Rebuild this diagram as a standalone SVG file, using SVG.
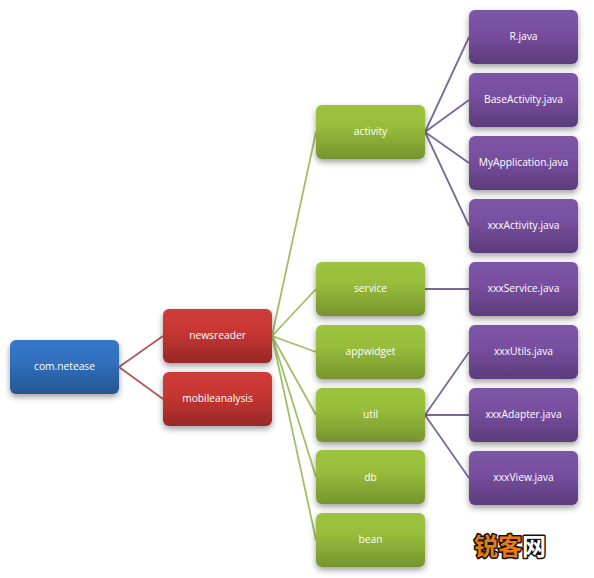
<svg xmlns="http://www.w3.org/2000/svg" width="594" height="578" viewBox="0 0 594 578">
<defs>
<linearGradient id="gb" x1="0" y1="0" x2="0" y2="1"><stop offset="0" stop-color="#3677c8"/><stop offset=".4" stop-color="#3070be"/><stop offset="1" stop-color="#24578f"/></linearGradient>
<linearGradient id="gr" x1="0" y1="0" x2="0" y2="1"><stop offset="0" stop-color="#cf3d3a"/><stop offset=".4" stop-color="#c83633"/><stop offset="1" stop-color="#982826"/></linearGradient>
<linearGradient id="gg" x1="0" y1="0" x2="0" y2="1"><stop offset="0" stop-color="#9dc43f"/><stop offset=".4" stop-color="#97bd3b"/><stop offset="1" stop-color="#76942e"/></linearGradient>
<linearGradient id="gp" x1="0" y1="0" x2="0" y2="1"><stop offset="0" stop-color="#7e55a6"/><stop offset=".4" stop-color="#794fa0"/><stop offset="1" stop-color="#5c3c7c"/></linearGradient>
<filter id="sh" x="-15%" y="-20%" width="130%" height="150%"><feDropShadow dx="0" dy="3" stdDeviation="3" flood-color="#000" flood-opacity=".38"/></filter>
</defs>
<style>
.n{filter:url(#sh)}
.b{fill:url(#gb)}.r{fill:url(#gr)}.g{fill:url(#gg)}.p{fill:url(#gp)}
text{font-family:"Open Sans","Liberation Sans",sans-serif;font-size:10.25px;fill:#fff;text-anchor:middle}
.cr{stroke:#b25a58;stroke-width:1.8;fill:none}
.cg{stroke:#a0bf66;stroke-width:1.8;fill:none}
.cp{stroke:#7d689a;stroke-width:1.8;fill:none}
.wm{font-family:"Noto Sans CJK SC",sans-serif;font-size:24px;font-weight:700;text-anchor:start;stroke:#111;stroke-width:3px;paint-order:stroke;stroke-linejoin:round}
</style>
<g id="connectors">
<path class="cr" d="M119 367L163 336M119 367L163 399"/>
<path class="cg" d="M272 336L316 132M272 336L316 289M272 336L316 352M272 336L316 415M272 336L316 477M272 336L316 540"/>
<path class="cp" d="M425 132L469 37M425 132L469 100M425 132L469 163M425 132L469 226M425 289L469 289M425 415L469 352M425 415L469 415M425 415L469 478"/>
</g>
<g id="com-netease"><rect class="n b" x="10" y="340" width="109" height="54" rx="6"/><text x="64.500" y="370">com.netease</text></g>
<g id="newsreader"><rect class="n r" x="163" y="309" width="109" height="54" rx="6"/><text x="217.500" y="339">newsreader</text></g>
<g id="mobileanalysis"><rect class="n r" x="163" y="372" width="109" height="54" rx="6"/><text x="217.500" y="402">mobileanalysis</text></g>
<g id="activity"><rect class="n g" x="316" y="105" width="109" height="54" rx="6"/><text x="370.500" y="135">activity</text></g>
<g id="service"><rect class="n g" x="316" y="262" width="109" height="54" rx="6"/><text x="370.500" y="292">service</text></g>
<g id="appwidget"><rect class="n g" x="316" y="325" width="109" height="54" rx="6"/><text x="370.500" y="355">appwidget</text></g>
<g id="util"><rect class="n g" x="316" y="388" width="109" height="54" rx="6"/><text x="370.500" y="418">util</text></g>
<g id="db"><rect class="n g" x="316" y="450" width="109" height="54" rx="6"/><text x="370.500" y="481">db</text></g>
<g id="bean"><rect class="n g" x="316" y="513" width="109" height="54" rx="6"/><text x="370.500" y="543">bean</text></g>
<g id="r-java"><rect class="n p" x="469" y="10" width="109" height="54" rx="6"/><text x="523.500" y="40">R.java</text></g>
<g id="baseactivity-java"><rect class="n p" x="469" y="73" width="109" height="54" rx="6"/><text x="523.500" y="103">BaseActivity.java</text></g>
<g id="myapplication-java"><rect class="n p" x="469" y="136" width="109" height="54" rx="6"/><text x="523.500" y="166">MyApplication.java</text></g>
<g id="xxxactivity-java"><rect class="n p" x="469" y="199" width="109" height="54" rx="6"/><text x="523.500" y="229">xxxActivity.java</text></g>
<g id="xxxservice-java"><rect class="n p" x="469" y="262" width="109" height="54" rx="6"/><text x="523.500" y="292">xxxService.java</text></g>
<g id="xxxutils-java"><rect class="n p" x="469" y="325" width="109" height="54" rx="6"/><text x="523.500" y="355">xxxUtils.java</text></g>
<g id="xxxadapter-java"><rect class="n p" x="469" y="388" width="109" height="54" rx="6"/><text x="523.500" y="418">xxxAdapter.java</text></g>
<g id="xxxview-java"><rect class="n p" x="469" y="451" width="109" height="54" rx="6"/><text x="523.500" y="481">xxxView.java</text></g>
<text class="wm" x="474" y="555" style="fill:#e87a12">锐客<tspan style="fill:#fff">网</tspan></text>
</svg>
